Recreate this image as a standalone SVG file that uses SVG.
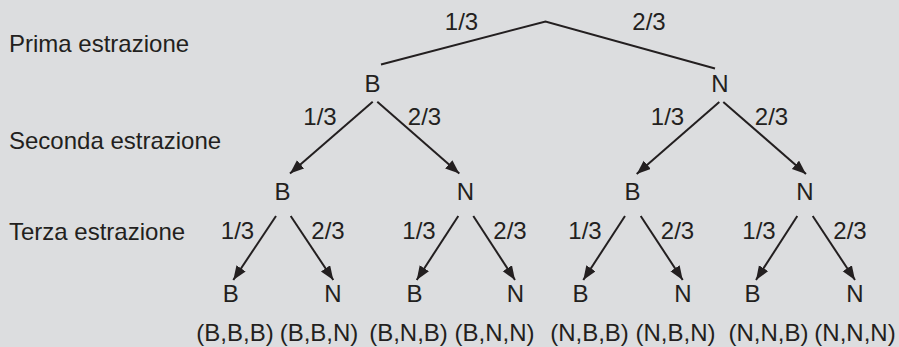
<svg xmlns="http://www.w3.org/2000/svg" width="899" height="347" viewBox="0 0 899 347">
<defs>
<marker id="ah" markerUnits="userSpaceOnUse" markerWidth="15" markerHeight="12" refX="14" refY="5.5" orient="auto">
<path d="M0,0 L14,5.5 L0,11 z" fill="#231f20"/>
</marker>
<style>
text{font-family:"Liberation Sans",Arial,Helvetica,sans-serif;font-size:24px;fill:#231f20}
.m{text-anchor:middle}
.e{stroke:#231f20;stroke-width:2;fill:none}
.a{marker-end:url(#ah)}
</style>
</defs>
<rect width="899" height="347" fill="#dcdddf"/>
<g id="levels">
<text x="9" y="52">Prima estrazione</text>
<text x="9" y="149">Seconda estrazione</text>
<text x="9" y="240">Terza estrazione</text>
</g>
<g id="connectors">
<polyline class="e" points="381,64.5 545.5,21.5 715,68.5"/>
<line class="e a" x1="372.7" y1="101.7" x2="290" y2="173.5"/>
<line class="e a" x1="377.3" y1="101.7" x2="459.3" y2="173.5"/>
<line class="e a" x1="719.3" y1="102" x2="636.7" y2="174"/>
<line class="e a" x1="723.3" y1="102" x2="806" y2="174"/>
<line class="e a" x1="276" y1="216" x2="233.3" y2="280"/>
<line class="e a" x1="290.7" y1="216" x2="333.3" y2="280"/>
<line class="e a" x1="458.3" y1="216" x2="416.7" y2="280"/>
<line class="e a" x1="473.3" y1="216" x2="515" y2="280"/>
<line class="e a" x1="625" y1="216" x2="583.3" y2="280"/>
<line class="e a" x1="640.7" y1="216" x2="682.7" y2="280"/>
<line class="e a" x1="797.3" y1="216" x2="756" y2="280"/>
<line class="e a" x1="812.7" y1="216" x2="855" y2="280"/>
</g>
<g id="edge-labels">
<text class="m" x="461.5" y="30">1/3</text>
<text class="m" x="649" y="30">2/3</text>
<text class="m" x="320" y="125">1/3</text>
<text class="m" x="424.5" y="125">2/3</text>
<text class="m" x="667.5" y="125">1/3</text>
<text class="m" x="771.5" y="125">2/3</text>
<text class="m" x="237.5" y="239">1/3</text>
<text class="m" x="328" y="239">2/3</text>
<text class="m" x="419" y="239">1/3</text>
<text class="m" x="510" y="239">2/3</text>
<text class="m" x="585" y="239">1/3</text>
<text class="m" x="677.5" y="239">2/3</text>
<text class="m" x="759" y="239">1/3</text>
<text class="m" x="850" y="239">2/3</text>
</g>
<g id="n-B"><text class="m" x="372.5" y="92">B</text></g>
<g id="n-N"><text class="m" x="720" y="92">N</text></g>
<g id="n-BB"><text class="m" x="282.5" y="200">B</text></g>
<g id="n-BN"><text class="m" x="465.5" y="200">N</text></g>
<g id="n-NB"><text class="m" x="632.5" y="200">B</text></g>
<g id="n-NN"><text class="m" x="805" y="200">N</text></g>
<g id="n-BBB"><text class="m" x="230.8" y="302">B</text></g>
<g id="n-BBN"><text class="m" x="333" y="302">N</text></g>
<g id="n-BNB"><text class="m" x="414.5" y="302">B</text></g>
<g id="n-BNN"><text class="m" x="515.5" y="302">N</text></g>
<g id="n-NBB"><text class="m" x="580.5" y="302">B</text></g>
<g id="n-NBN"><text class="m" x="683" y="302">N</text></g>
<g id="n-NNB"><text class="m" x="752.5" y="302">B</text></g>
<g id="n-NNN"><text class="m" x="855" y="302">N</text></g>
<g id="outcomes">
<text class="m" x="235" y="341">(B,B,B)</text>
<text class="m" x="319" y="341">(B,B,N)</text>
<text class="m" x="408.5" y="341">(B,N,B)</text>
<text class="m" x="494.5" y="341">(B,N,N)</text>
<text class="m" x="589.5" y="341">(N,B,B)</text>
<text class="m" x="675.5" y="341">(N,B,N)</text>
<text class="m" x="768.5" y="341">(N,N,B)</text>
<text class="m" x="855" y="341">(N,N,N)</text>
</g>
</svg>
